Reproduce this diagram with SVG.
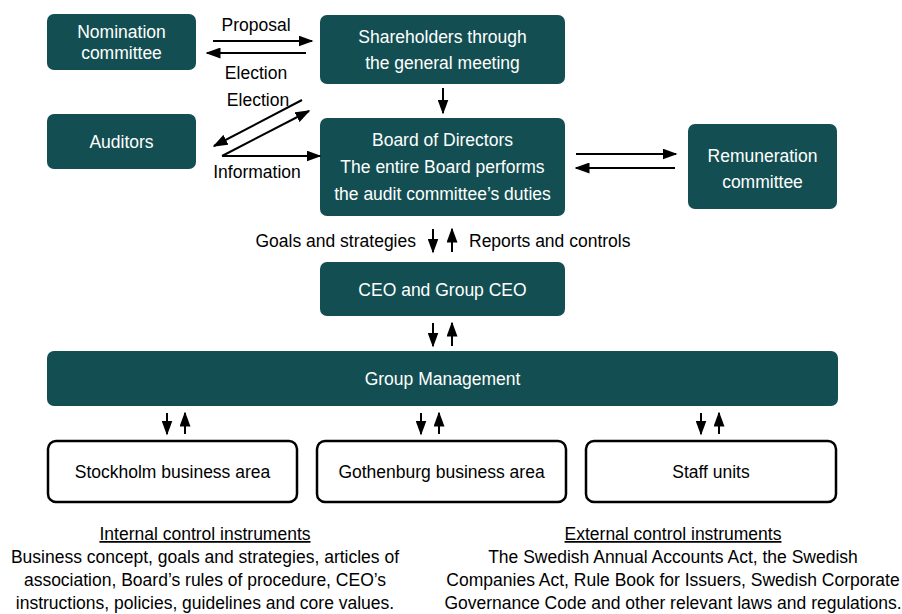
<svg xmlns="http://www.w3.org/2000/svg" width="902" height="614" viewBox="0 0 902 614">
  <style>
    .box { fill: #134f52; }
    .wbox { fill: #ffffff; stroke: #000000; stroke-width: 2.5; }
    .lt { fill: #ffffff; font-family: "Liberation Sans", Arial, sans-serif; font-size: 17.5px; text-anchor: middle; }
    .dt { fill: #000000; font-family: "Liberation Sans", Arial, sans-serif; font-size: 17.5px; text-anchor: middle; }
    .lbl { fill: #000000; font-family: "Liberation Sans", Arial, sans-serif; font-size: 17.5px; }
    .ln { stroke: #000000; stroke-width: 2; fill: none; marker-end: url(#ah); }
  </style>
  <defs>
    <marker id="ah" viewBox="0 0 10 10" refX="9" refY="5" markerWidth="7.5" markerHeight="5.5" markerUnits="strokeWidth" orient="auto" preserveAspectRatio="none">
      <path d="M0,0 L10,5 L0,10 z" fill="#000000"/>
    </marker>
  </defs>

  <g id="nomination-committee">
    <rect class="box" x="47" y="14" width="149" height="56" rx="7"/>
    <text class="lt" x="121.5" y="38">Nomination</text>
    <text class="lt" x="121.5" y="59">committee</text>
  </g>
  <g id="shareholders">
    <rect class="box" x="320" y="15" width="245" height="69" rx="7"/>
    <text class="lt" x="442.5" y="43">Shareholders through</text>
    <text class="lt" x="442.5" y="69">the general meeting</text>
  </g>
  <g id="auditors">
    <rect class="box" x="47" y="114" width="149" height="55" rx="7"/>
    <text class="lt" x="121.5" y="148">Auditors</text>
  </g>
  <g id="board">
    <rect class="box" x="320" y="118" width="245" height="98" rx="7"/>
    <text class="lt" x="442.5" y="146">Board of Directors</text>
    <text class="lt" x="442.5" y="173">The entire Board performs</text>
    <text class="lt" x="442.5" y="200">the audit committee’s duties</text>
  </g>
  <g id="remuneration-committee">
    <rect class="box" x="688" y="124" width="149" height="85" rx="7"/>
    <text class="lt" x="762.5" y="162">Remuneration</text>
    <text class="lt" x="762.5" y="188">committee</text>
  </g>
  <g id="ceo">
    <rect class="box" x="320" y="262" width="245" height="54" rx="7"/>
    <text class="lt" x="442.5" y="296">CEO and Group CEO</text>
  </g>
  <g id="group-management">
    <rect class="box" x="47" y="351" width="791" height="55" rx="7"/>
    <text class="lt" x="442.5" y="385">Group Management</text>
  </g>
  <g id="stockholm">
    <rect class="wbox" x="48" y="441" width="249" height="61" rx="8"/>
    <text class="dt" x="172.5" y="478">Stockholm business area</text>
  </g>
  <g id="gothenburg">
    <rect class="wbox" x="317" y="441" width="249" height="61" rx="8"/>
    <text class="dt" x="441.5" y="478">Gothenburg business area</text>
  </g>
  <g id="staff-units">
    <rect class="wbox" x="586" y="441" width="250" height="61" rx="8"/>
    <text class="dt" x="711" y="478">Staff units</text>
  </g>

  <g id="connectors">
    <line class="ln" x1="213" y1="41" x2="312" y2="41"/>
    <line class="ln" x1="306" y1="53" x2="207" y2="53"/>
    <line class="ln" x1="302" y1="100" x2="214" y2="146"/>
    <line class="ln" x1="222" y1="156" x2="309" y2="111"/>
    <line class="ln" x1="222" y1="156" x2="320" y2="156"/>
    <line class="ln" x1="443" y1="88" x2="443" y2="113"/>
    <line class="ln" x1="576" y1="154" x2="676" y2="154"/>
    <line class="ln" x1="675" y1="168" x2="576" y2="168"/>
    <line class="ln" x1="433" y1="229" x2="433" y2="252"/>
    <line class="ln" x1="452" y1="252" x2="452" y2="229"/>
    <line class="ln" x1="433" y1="323" x2="433" y2="346"/>
    <line class="ln" x1="452" y1="346" x2="452" y2="323"/>
    <line class="ln" x1="167" y1="413" x2="167" y2="434"/>
    <line class="ln" x1="185" y1="434" x2="185" y2="413"/>
    <line class="ln" x1="421" y1="413" x2="421" y2="434"/>
    <line class="ln" x1="439" y1="434" x2="439" y2="413"/>
    <line class="ln" x1="701" y1="413" x2="701" y2="434"/>
    <line class="ln" x1="719" y1="434" x2="719" y2="413"/>
  </g>

  <g id="labels">
    <text class="dt" x="256" y="31">Proposal</text>
    <text class="dt" x="256" y="79">Election</text>
    <text class="dt" x="258" y="106">Election</text>
    <text class="dt" x="257" y="178">Information</text>
    <text class="lbl" x="416" y="247" text-anchor="end">Goals and strategies</text>
    <text class="lbl" x="469" y="247">Reports and controls</text>
  </g>

  <g id="control-instruments">
    <text class="dt" x="205" y="540" text-decoration="underline">Internal control instruments</text>
    <text class="dt" x="205" y="563">Business concept, goals and strategies, articles of</text>
    <text class="dt" x="205" y="586">association, Board’s rules of procedure, CEO’s</text>
    <text class="dt" x="205" y="609">instructions, policies, guidelines and core values.</text>
    <text class="dt" x="673" y="540" text-decoration="underline">External control instruments</text>
    <text class="dt" x="673" y="563">The Swedish Annual Accounts Act, the Swedish</text>
    <text class="dt" x="673" y="586">Companies Act, Rule Book for Issuers, Swedish Corporate</text>
    <text class="dt" x="673" y="609">Governance Code and other relevant laws and regulations.</text>
  </g>
</svg>
